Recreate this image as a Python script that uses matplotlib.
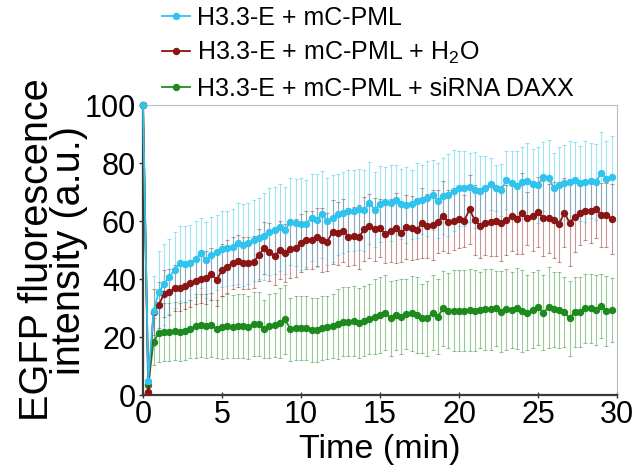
import numpy as np
import matplotlib
matplotlib.use("Agg")
import matplotlib.pyplot as plt

plt.rcParams["font.family"] = ["Liberation Sans", "DejaVu Sans"]
plt.rcParams["mathtext.fontset"] = "custom"
plt.rcParams["mathtext.rm"] = "Liberation Sans"

# one frame every 20 s
FRAME_INTERVAL_MIN = 1 / 3

LABELS = ["H3.3-E + mC-PML", r"H3.3-E + mC-PML + H$_\mathregular{2}$O", "H3.3-E + mC-PML + siRNA DAXX"]
COLORS = ["#2EC4EE", "#8B1515", "#1E8A1E"]

cyan_mean = [100, 5, 29, 35.6, 38.2, 40.8, 43.1, 45.4, 45.2, 45.6, 46.9, 48.9, 46.5, 48.3, 49.2, 50.3, 50.6, 51.0, 52.3, 51.7,
             52.3, 53.4, 54.0, 54.8, 56.3, 56.9, 57.8, 56.9, 59.8, 59.4, 59.0, 59.0, 61.2, 60.3, 62.4, 60.0, 60.9, 62.3, 62.9, 63.5,
             63.5, 64.0, 63.7, 66.2, 63.9, 65.8, 66.6, 66.2, 67.2, 65.8, 65.5, 65.7, 67.0, 67.4, 67.8, 69.0, 67.0, 68.6, 69.0, 70.5,
             71.3, 71.3, 71.6, 70.7, 70.5, 71.3, 72.8, 71.3, 70.7, 74.1, 73.2, 72.1, 73.6, 73.9, 72.8, 72.4, 75.3, 75.0, 71.3, 72.4,
             73.2, 73.6, 74.1, 73.0, 73.6, 73.9, 73.4, 76.7, 74.6, 75.3]
cyan_sd = [0, 4, 12, 14, 14, 13, 13, 13, 13, 13, 13, 12, 13, 13, 13, 13, 13, 13, 14, 14,
           14, 14, 14, 15, 15, 15, 15, 15, 15, 15, 16, 15, 15, 16, 15, 15, 15, 14, 14, 14,
           14, 14, 14, 14, 13, 13, 12, 13, 12, 12, 13, 12, 13, 12, 13, 12, 13, 13, 14, 14,
           13, 13, 12, 13, 12, 11, 9, 8, 9, 10, 11, 12, 12, 13, 12, 13, 12, 13, 12, 13,
           13, 14, 13, 13, 14, 13, 13, 14, 13, 14]

red_mean = [100, 1.0, 28.7, 31.0, 35.0, 35.6, 36.8, 37.0, 37.6, 38.5, 39.4, 39.9, 40.5, 41.7, 39.7, 43.1, 44.3, 45.5, 46.3, 45.4,
            45.5, 45.9, 48.3, 50.6, 49.4, 47.9, 50.0, 48.9, 50.2, 50.8, 52.5, 53.4, 53.4, 54.4, 53.4, 52.9, 56.3, 55.7, 56.7, 54.6,
            54.8, 54.4, 57.2, 58.3, 57.1, 57.5, 55.5, 56.7, 57.5, 55.9, 57.8, 57.5, 56.9, 59.4, 58.3, 58.6, 59.8, 61.7, 59.8, 60.1,
            60.6, 60.1, 64.0, 60.3, 58.3, 59.2, 59.8, 60.1, 59.2, 60.3, 61.7, 60.6, 62.6, 60.9, 61.7, 63.2, 60.9, 60.9, 60.3, 59.0,
            62.9, 59.4, 61.4, 62.6, 63.5, 63.5, 64.0, 62.1, 62.1, 60.6]
red_sd = [0, 3, 8, 8, 8, 8, 8, 8, 8, 8, 8, 8, 9, 9, 9, 9, 9, 9, 9, 9,
          9, 9, 9, 9, 10, 10, 10, 10, 10, 10, 10, 10, 10, 10, 11, 10, 11, 11, 11, 10,
          10, 11, 11, 11, 11, 10, 10, 11, 12, 10, 11, 11, 10, 12, 11, 12, 11, 12, 11, 10,
          10, 9, 12, 12, 11, 11, 12, 12, 13, 12, 12, 12, 14, 9, 12, 12, 13, 12, 13, 13,
          12, 15, 12, 11, 10, 11, 10, 11, 11, 12]

green_mean = [100, 3.5, 18.4, 21.3, 21.6, 21.8, 22.0, 21.9, 22.2, 22.6, 23.9, 24.0, 23.9, 24.2, 22.6, 23.3, 23.7, 23.6, 23.7, 23.8,
              23.3, 24.5, 24.5, 22.6, 23.8, 24.1, 24.9, 26.1, 22.6, 23.0, 23.0, 23.0, 22.4, 22.4, 23.0, 23.3, 23.8, 24.5, 25.3, 25.3,
              25.6, 24.9, 25.5, 26.2, 27.0, 27.6, 28.4, 26.4, 27.6, 27.0, 27.9, 28.2, 27.6, 26.4, 26.4, 28.4, 27.0, 29.9, 29.1, 29.1,
              29.1, 29.1, 29.3, 29.1, 29.3, 29.5, 29.5, 29.9, 28.7, 29.5, 29.3, 29.9, 29.0, 28.4, 29.3, 30.2, 28.4, 30.2, 29.5, 29.3,
              28.7, 26.4, 28.7, 28.7, 29.9, 29.9, 29.3, 30.8, 29.0, 29.3]
green_sd = [0, 3, 8, 10, 10, 10, 10, 10, 10, 10, 11, 11, 11, 11, 10, 11, 11, 11, 11, 11,
            11, 11, 11, 10, 11, 11, 12, 12, 11, 11, 11, 11, 11, 11, 11, 11, 11, 12, 12, 12,
            12, 12, 12, 12, 13, 13, 13, 13, 12, 13, 12, 13, 13, 12, 13, 13, 13, 13, 13, 14,
            14, 14, 14, 14, 13, 14, 14, 13, 14, 14, 13, 14, 14, 13, 13, 13, 13, 14, 13, 13,
            12, 13, 12, 12, 12, 12, 12, 11, 12, 11]

time_min = np.arange(len(cyan_mean)) * FRAME_INTERVAL_MIN

fig = plt.figure(figsize=(6.37, 4.75), dpi=100)
ax = fig.add_axes([0.2245, 0.1684, 0.7441, 0.6105])

series = [(green_mean, green_sd, COLORS[2], LABELS[2]),
          (red_mean, red_sd, COLORS[1], LABELS[1]),
          (cyan_mean, cyan_sd, COLORS[0], LABELS[0])]
lines = {}
for mean, sd, color, label in series:
    ax.errorbar(time_min, mean, yerr=sd, fmt="none", ecolor=color, alpha=0.45,
                elinewidth=0.8, capsize=1.6, capthick=0.8)
for mean, sd, color, label in series:
    line, = ax.plot(time_min, mean, "-o", color=color, lw=1.3, ms=4.3, label=label, clip_on=False, zorder=3)
    lines[label] = line

ax.set_xlim(0, 30)
ax.set_ylim(0, 100)
ax.set_xticks([0, 5, 10, 15, 20, 25, 30])
ax.set_yticks([0, 20, 40, 60, 80, 100])
ax.tick_params(axis="both", labelsize=22, colors="#333333", labelcolor="black", width=1)
ax.tick_params(axis="x", direction="inout", length=5, pad=1)
ax.tick_params(axis="y", direction="out", length=3, pad=2)

for side in ["left", "bottom"]:
    ax.spines[side].set_color("#3a3a3a")
    ax.spines[side].set_linewidth(1.6)
for side in ["top", "right"]:
    ax.spines[side].set_color("#BBBBBB")
    ax.spines[side].set_linewidth(0.8)

ax.set_xlabel("Time (min)", fontsize=24.5, labelpad=3)
ax.set_ylabel("EGFP fluorescence\nintensity (a.u.)", fontsize=28.5, linespacing=0.82)
ax.yaxis.set_label_coords(-0.115, 0.5)

fig.legend([lines[l] for l in LABELS], LABELS, loc="upper left", bbox_to_anchor=(0.254, 0.988),
           frameon=False, fontsize=18, handlelength=1.12, handletextpad=0.3,
           labelspacing=0.42, borderpad=0, borderaxespad=0, numpoints=1)

fig.savefig("out.png", dpi=100)
